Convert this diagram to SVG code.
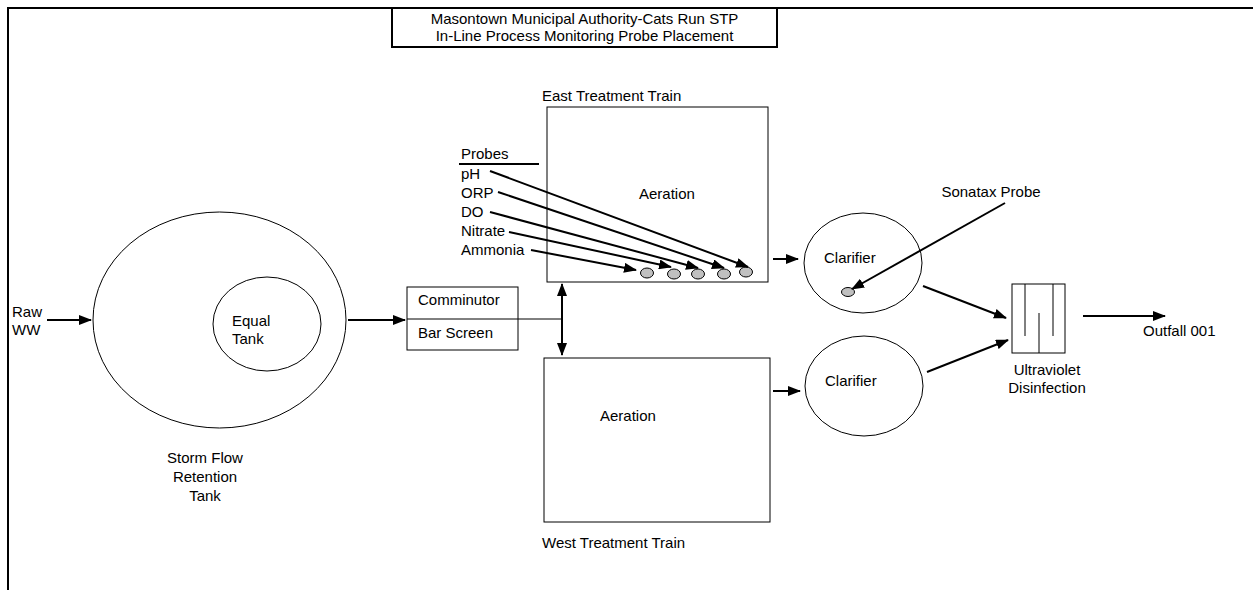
<svg xmlns="http://www.w3.org/2000/svg" width="1253" height="590" viewBox="0 0 1253 590">
<style>
text{font-family:"Liberation Sans",Arial,sans-serif;font-size:15px;fill:#000}
.c{text-anchor:middle}
.sh{fill:none;stroke:#000;stroke-width:1}
.cn{fill:none;stroke:#000;stroke-width:2}
.pr{fill:#c0c0c0;stroke:#000;stroke-width:1}
</style>
<defs>
<marker id="ah" markerUnits="userSpaceOnUse" markerWidth="13" markerHeight="10" viewBox="0 0 13 10" refX="12" refY="5" orient="auto">
<path d="M0,0 L13,5 L0,10 Z" fill="#000"/>
</marker>
<marker id="ahs" markerUnits="userSpaceOnUse" markerWidth="13" markerHeight="10" viewBox="0 0 13 10" refX="1" refY="5" orient="auto">
<path d="M13,0 L0,5 L13,10 Z" fill="#000"/>
</marker>
</defs>
<rect width="1253" height="590" fill="#fff"/>
<g id="frame">
<path d="M8,590 L8,8 L1253,8" fill="none" stroke="#000" stroke-width="2"/>
</g>
<g id="title">
<rect x="392" y="8" width="385" height="39" fill="#fff" stroke="#000" stroke-width="2"/>
<text class="c" x="584.5" y="24">Masontown Municipal Authority-Cats Run STP</text>
<text class="c" x="584.5" y="41">In-Line Process Monitoring Probe Placement</text>
</g>
<g id="raw-ww">
<text x="12" y="317">Raw</text>
<text x="12" y="335">WW</text>
</g>
<g id="storm-tank">
<ellipse class="sh" cx="219.5" cy="320" rx="126.5" ry="108"/>
<text class="c" x="205" y="463">Storm Flow</text>
<text class="c" x="205" y="482">Retention</text>
<text class="c" x="205" y="501">Tank</text>
</g>
<g id="equal-tank">
<ellipse class="sh" cx="267" cy="324" rx="54" ry="47"/>
<text x="232" y="326">Equal</text>
<text x="232" y="344">Tank</text>
</g>
<g id="comminutor">
<rect class="sh" x="407" y="287" width="111" height="63"/>
<line class="sh" x1="407" y1="319" x2="518" y2="319"/>
<text x="418" y="305">Comminutor</text>
<text x="418" y="338">Bar Screen</text>
</g>
<g id="east-aeration">
<rect class="sh" x="547" y="107" width="221" height="175"/>
<text x="542" y="101" font-size="13.5">East Treatment Train</text>
<text x="639" y="199">Aeration</text>
<ellipse class="pr" cx="647" cy="273" rx="6.5" ry="5"/>
<ellipse class="pr" cx="674" cy="274" rx="6.5" ry="5"/>
<ellipse class="pr" cx="698" cy="274" rx="6.5" ry="5"/>
<ellipse class="pr" cx="724" cy="274" rx="6.5" ry="5"/>
<ellipse class="pr" cx="746" cy="272" rx="6.5" ry="5"/>
</g>
<g id="probes">
<text x="461" y="159">Probes</text>
<line x1="459" y1="164" x2="539" y2="164" stroke="#000" stroke-width="2"/>
<text x="461" y="179">pH</text>
<text x="461" y="198">ORP</text>
<text x="461" y="217">DO</text>
<text x="461" y="236">Nitrate</text>
<text x="461" y="255">Ammonia</text>
</g>
<g id="west-aeration">
<rect class="sh" x="544" y="358" width="226" height="164"/>
<text x="600" y="421" font-size="13.5">Aeration</text>
<text x="542" y="548" font-size="15.5">West Treatment Train</text>
</g>
<g id="clarifier-east">
<ellipse class="sh" cx="863" cy="263" rx="59" ry="50"/>
<text x="824" y="263">Clarifier</text>
<ellipse class="pr" cx="848" cy="292" rx="6.5" ry="4.5"/>
</g>
<g id="sonatax">
<text class="c" x="991" y="197">Sonatax Probe</text>
</g>
<g id="clarifier-west">
<ellipse class="sh" cx="864" cy="386" rx="59" ry="50"/>
<text x="825" y="386">Clarifier</text>
</g>
<g id="uv">
<rect class="sh" x="1012" y="284" width="53" height="69"/>
<line class="sh" x1="1025" y1="284" x2="1025" y2="336"/>
<line class="sh" x1="1053" y1="284" x2="1053" y2="336"/>
<line class="sh" x1="1039" y1="313" x2="1039" y2="353"/>
<text class="c" x="1047" y="375">Ultraviolet</text>
<text class="c" x="1047" y="393">Disinfection</text>
</g>
<g id="outfall">
<text x="1143" y="336">Outfall 001</text>
</g>
<g id="connectors">
<line class="cn" x1="47" y1="320" x2="91" y2="320" marker-end="url(#ah)"/>
<line class="cn" x1="348" y1="320" x2="405" y2="320" marker-end="url(#ah)"/>
<line x1="518" y1="319" x2="562" y2="319" stroke="#000" stroke-width="1"/>
<line class="cn" x1="562" y1="284" x2="562" y2="355" marker-start="url(#ahs)" marker-end="url(#ah)"/>
<line class="cn" x1="490" y1="171" x2="748" y2="267" marker-end="url(#ah)"/>
<line class="cn" x1="498" y1="192" x2="724" y2="268" marker-end="url(#ah)"/>
<line class="cn" x1="490" y1="212" x2="698" y2="268" marker-end="url(#ah)"/>
<line class="cn" x1="509" y1="232" x2="671" y2="267" marker-end="url(#ah)"/>
<line class="cn" x1="531" y1="250" x2="636" y2="270" marker-end="url(#ah)"/>
<line class="cn" x1="773" y1="259" x2="798" y2="259" marker-end="url(#ah)"/>
<line class="cn" x1="773" y1="391" x2="800" y2="391" marker-end="url(#ah)"/>
<line class="cn" x1="1005" y1="203" x2="852" y2="289" marker-end="url(#ah)"/>
<line class="cn" x1="923" y1="286" x2="1006" y2="318" marker-end="url(#ah)"/>
<line class="cn" x1="927" y1="372" x2="1008" y2="340" marker-end="url(#ah)"/>
<line class="cn" x1="1083" y1="316" x2="1165" y2="316" marker-end="url(#ah)"/>
</g>
</svg>
